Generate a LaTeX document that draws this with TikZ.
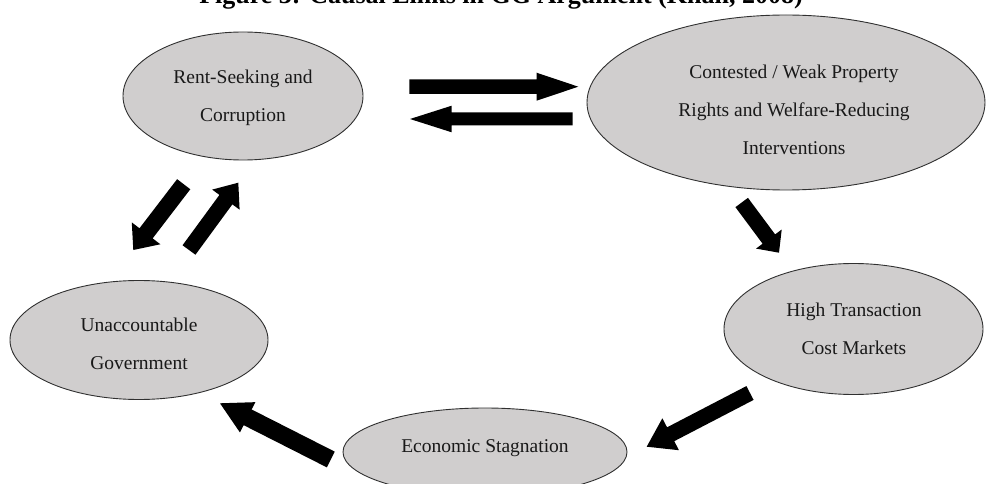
\documentclass[tikz,border=0pt]{standalone}
\usepackage{fontspec}
\setmainfont{Liberation Serif}
\usetikzlibrary{shapes.geometric,calc}

\definecolor{bubblefill}{HTML}{D0CECE}
\definecolor{bubbleline}{HTML}{303030}

\tikzset{
  bubble/.style={ellipse, draw=bubbleline, line width=0.9pt, fill=bubblefill,
                 inner sep=0pt, outer sep=0pt},
  bubbletext/.style={inner sep=0pt, align=center, text=black!90,
                     font=\fontsize{19.5}{38}\selectfont},
  headline/.style={inner sep=0pt, anchor=base, font=\fontsize{26}{30}\selectfont\bfseries},
  arrowfill/.style={fill=black}
}

% block arrow: tail, tip, half shaft width, head length, half head width
\newcommand\blockarrow[5]{%
  \coordinate (ba-base) at ($(#2)!#4!(#1)$);
  \fill[arrowfill] ($(#1)!#3!90:(#2)$) -- ($(ba-base)!#3!90:(#2)$)
    -- ($(ba-base)!#5!90:(#2)$) -- (#2) -- ($(ba-base)!#5!-90:(#2)$)
    -- ($(ba-base)!#3!-90:(#2)$) -- ($(#1)!#3!-90:(#2)$) -- cycle;}

\begin{document}
\begin{tikzpicture}[x=1pt,y=-1pt]
\useasboundingbox (0,0) rectangle (986,484);
\clip (0,0) rectangle (986,484);

% title
\node[headline] (title) at (501,3.5) {Figure 3: Causal Links in GG Argument (Khan, 2008)};

% the five states of the cycle
\node[bubble, minimum width=240pt, minimum height=128pt] (rent) at (243,96) {};
\node[bubble, minimum width=398pt, minimum height=175pt] (weak) at (786,102.5) {};
\node[bubble, minimum width=259pt, minimum height=131pt] (high) at (853.5,329) {};
\node[bubble, minimum width=284pt, minimum height=88pt]  (stag) at (485,452) {};
\node[bubble, minimum width=258pt, minimum height=119pt] (unacc) at (139,340) {};

\node[bubbletext] (rent-txt)  at (243,98)    {Rent-Seeking and\\Corruption};
\node[bubbletext] (weak-txt)  at (794,109.5) {Contested / Weak Property\\Rights and Welfare-Reducing\\Interventions};
\node[bubbletext] (high-txt)  at (854,329)   {High Transaction\\Cost Markets};
\node[bubbletext] (stag-txt)  at (485,448.5) {Economic Stagnation};
\node[bubbletext] (unacc-txt) at (139,344)   {Unaccountable\\Government};

% arrow end points
\coordinate (rw-tail) at (409.3,86.7);  \coordinate (rw-tip) at (578.3,86.7);
\coordinate (wr-tail) at (572.7,119);   \coordinate (wr-tip) at (410,119);
\coordinate (wh-tail) at (741.7,202.5); \coordinate (wh-tip) at (779,252.7);
\coordinate (hs-tail) at (750,393);     \coordinate (hs-tip) at (646.7,446.7);
\coordinate (su-tail) at (330.8,459.5); \coordinate (su-tip) at (220,403.3);
\coordinate (ur-tail) at (189,250);     \coordinate (ur-tip) at (238.3,182.7);
\coordinate (ru-tail) at (183.7,184.2); \coordinate (ru-tip) at (133.3,250);

% causal links
\blockarrow{rw-tail}{rw-tip}{7.3pt}{41.7pt}{14pt}
\blockarrow{wr-tail}{wr-tip}{6.5pt}{41.7pt}{13.3pt}
\blockarrow{wh-tail}{wh-tip}{7.8pt}{17pt}{16pt}
\blockarrow{hs-tail}{hs-tip}{7.8pt}{27pt}{18pt}
\blockarrow{su-tail}{su-tip}{8.8pt}{31pt}{17pt}
\blockarrow{ur-tail}{ur-tip}{8pt}{21pt}{17pt}
\blockarrow{ru-tail}{ru-tip}{8.3pt}{21pt}{18pt}
\end{tikzpicture}
\end{document}
